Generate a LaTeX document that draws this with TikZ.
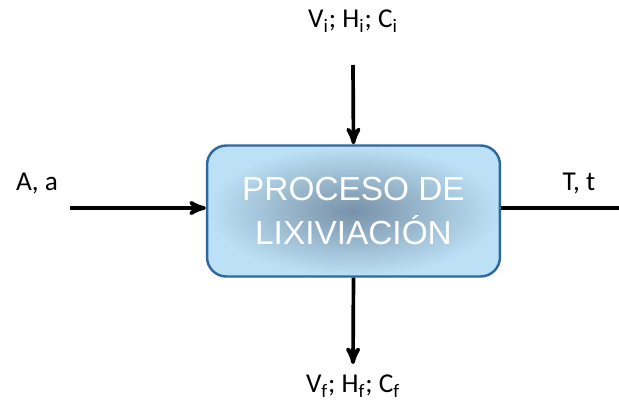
\documentclass[tikz,border=0pt]{standalone}
\usepackage{fontspec}
\setmainfont{Carlito}
\newfontfamily\boxfont{Liberation Sans}
\usetikzlibrary{arrows,positioning}
\definecolor{boxedge}{RGB}{46,104,160}
\definecolor{boxcore}{RGB}{120,145,168}
\definecolor{boxrim}{RGB}{188,225,246}

\begin{document}
\begin{tikzpicture}[x=0.02cm,y=-0.02cm,>=stealth',thick,
  flow/.style={->,line width=2.1pt},
  label node/.style={font=\fontsize{15.5}{18}\selectfont,inner sep=0pt},
  process/.style={rounded corners=11pt,draw=boxedge,line width=1.4pt,
    inner color=boxcore,outer color=boxrim,
    minimum width=5.86cm,minimum height=2.62cm,align=center,text=white,
    font=\boxfont\fontsize{19}{25}\selectfont}]

  \useasboundingbox (0,0) rectangle (619,405);

  \node[process] (proc) at (353.5,211) {PROCESO DE\\LIXIVIACIÓN};

  \node[label node] (in) at (353,21) {V\textsubscript{i}; H\textsubscript{i}; C\textsubscript{i}};
  \node[label node] (out) at (353,386) {V\textsubscript{f}; H\textsubscript{f}; C\textsubscript{f}};
  \node[label node] (feed) at (37,184) {A, a};
  \node[label node] (time) at (579,184) {T, t};

  \coordinate (intop) at (353,65);
  \coordinate (outbot) at (353,364);
  \coordinate (feedstart) at (70,208);
  \coordinate (timeend) at (619,208);

  \draw[flow] (intop) -- (proc.north);
  \draw[flow] (proc.south) -- (outbot);
  \draw[flow] (feedstart) -- (feedstart -| proc.west);
  \draw[line width=2.1pt] (timeend -| proc.east) -- (timeend);
\end{tikzpicture}
\end{document}
